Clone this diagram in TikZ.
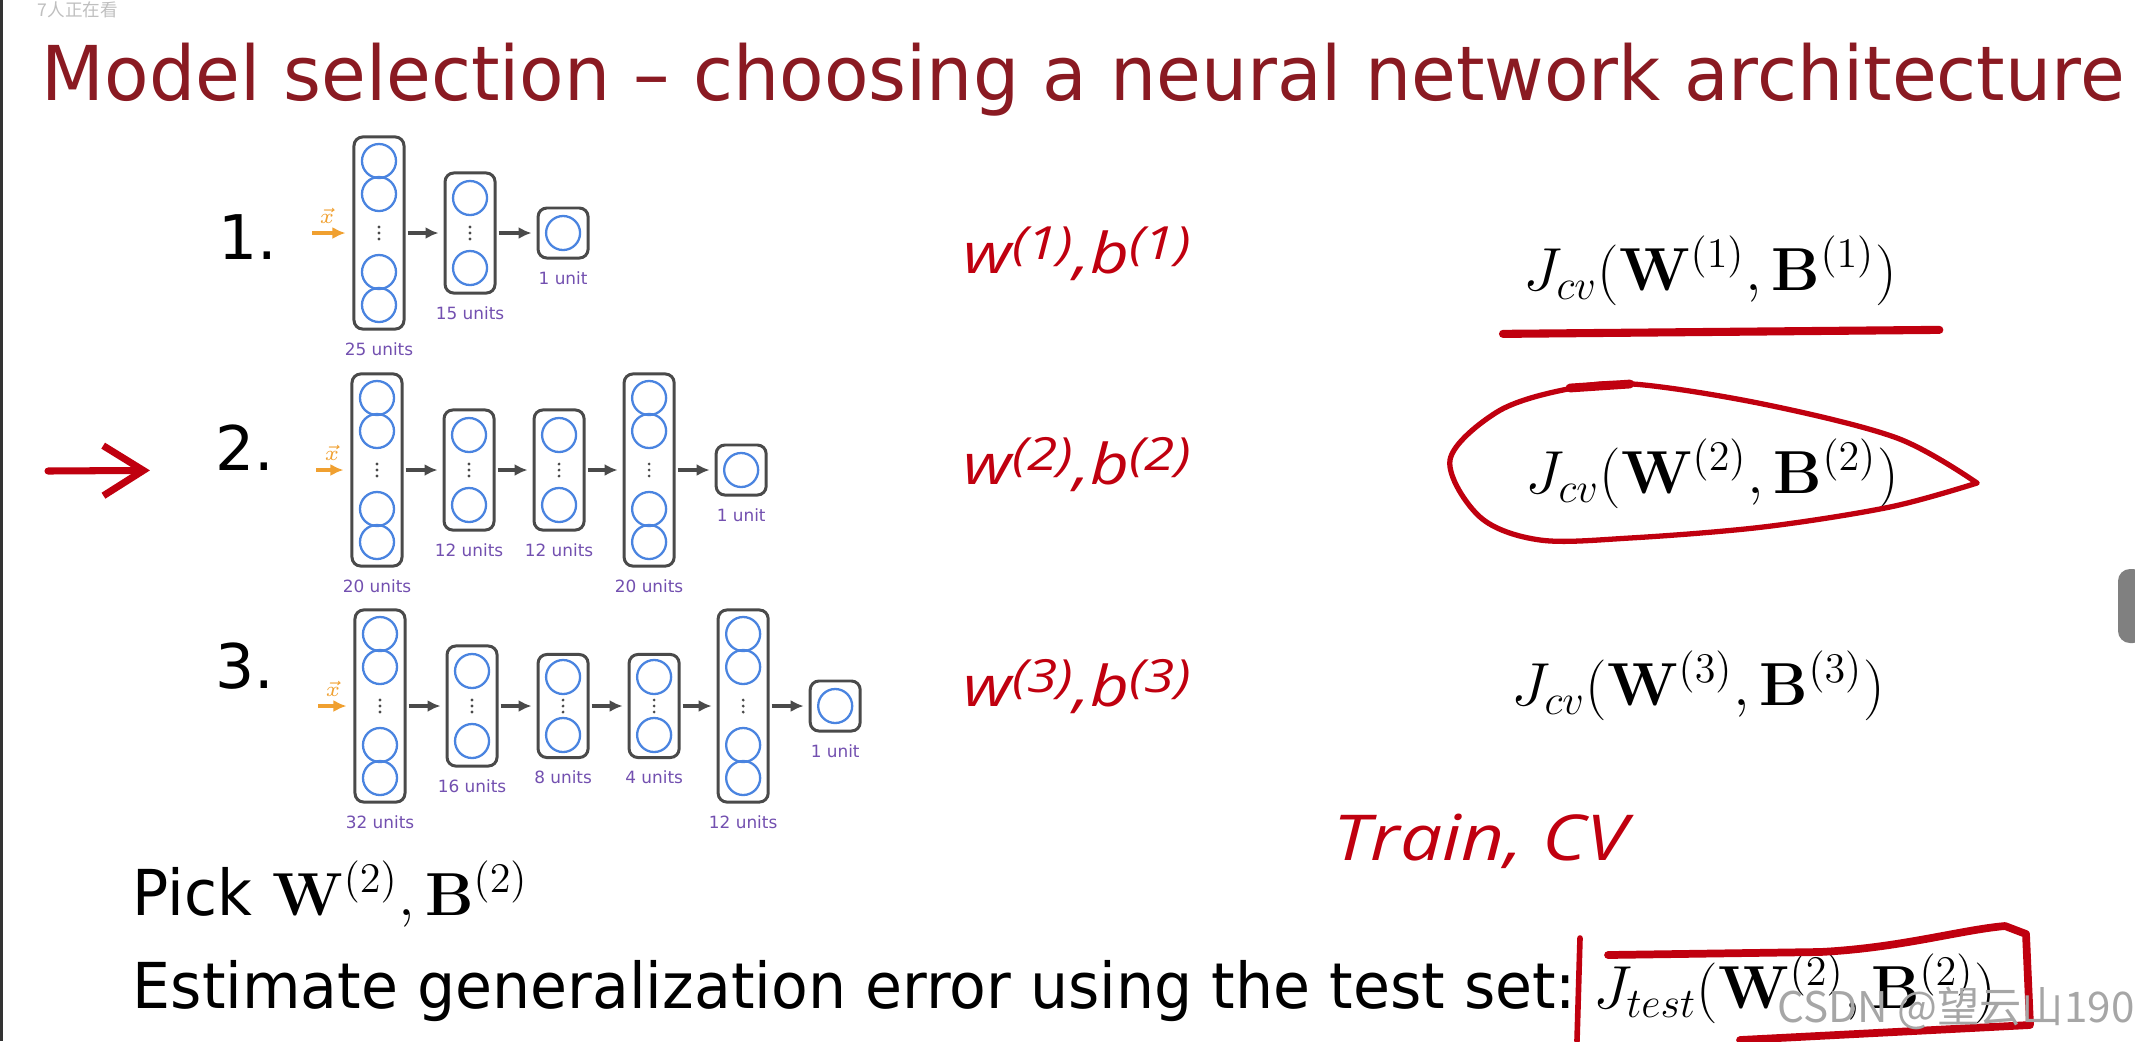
\documentclass[tikz,border=0pt]{standalone}
\usepackage[no-math]{fontspec}
\usepackage{graphicx}
\usepackage{tikz}
\usetikzlibrary{arrows.meta, positioning, calc}
\setmainfont{DejaVu Sans}
\newfontfamily\penfont{Open Sans}
\newfontfamily\cjkfont{Noto Sans CJK SC}
\definecolor{titlered}{HTML}{8A1A22}
\definecolor{penred}{HTML}{C0000F}
\definecolor{boxgray}{HTML}{4A4A4A}
\definecolor{unitblue}{HTML}{4A84E0}
\definecolor{unitpurple}{HTML}{7350B0}
\definecolor{inorange}{HTML}{F0A030}
\newcommand{\squeezed}[2][0.95]{\scalebox{#1}[1]{#2}}
\newcommand{\penwide}[1]{\scalebox{1.2}[1]{#1}}
\newcommand{\penup}[1]{\raisebox{0.45ex}{\fontsize{13}{13}\selectfont(#1)}}
\tikzset{
  layer/.style={draw=boxgray, fill=white, line width=0.85pt, rounded corners=2.5pt,
    minimum width=5mm, inner sep=0pt},
  tall/.style={layer, minimum height=19.2mm},
  mid/.style={layer, minimum height=12mm},
  short/.style={layer, minimum height=10.3mm},
  outbox/.style={layer, minimum height=5mm},
  unit/.style={circle, draw=unitblue, line width=0.65pt, minimum size=3.4mm, inner sep=0pt},
  ulabel/.style={font=\fontsize{4.8}{5}\selectfont, text=unitpurple, inner sep=0pt, below=1.1mm of #1},
  flow/.style={-{Latex[length=1.3mm, width=1.2mm]}, draw=boxgray, line width=0.9pt,
    shorten <=0.2mm, shorten >=0.5mm},
  inflow/.style={-{Latex[length=1.3mm, width=1.2mm]}, draw=inorange, line width=0.9pt, shorten >=0.7mm},
  xvec/.style={font=\fontsize{6}{6}\selectfont, text=inorange, inner sep=0pt},
  rownum/.style={font=\fontsize{17.5}{20}\selectfont, anchor=base west, inner sep=0pt},
  pen/.style={font=\penfont\itshape\fontsize{16}{18}\selectfont, text=penred, anchor=base west, inner sep=0pt},
  cost/.style={font=\fontsize{17}{20}\selectfont, anchor=base west, inner sep=0pt},
  body/.style={font=\fontsize{18}{22}\selectfont, anchor=base west, inner sep=0pt},
  redpen/.style={draw=penred, line width=1.5pt, line cap=round, line join=round}
}

\begin{document}
\begin{tikzpicture}[x=0.01cm, y=-0.01cm]
\fill[white] (0,0) rectangle (2135,1041);
\useasboundingbox (0,0) rectangle (2135,1041);
\draw[line width=0.3mm, draw=black!80] (1,0) -- (1,1041);
\node[font=\cjkfont\fontsize{5}{5}\selectfont, text=black!25, anchor=north west, inner sep=0pt] (viewers) at (37,1) {7人正在看};
\fill[black!50, rounded corners=1.2mm] (2118,569) rectangle (2145,643);

\node[font=\fontsize{21.5}{26}\selectfont, text=titlered, anchor=base west, inner sep=0pt] (title) at (41,100)
  {\squeezed[0.963]{Model selection – choosing a neural network architecture}};

\node[rownum] (num1) at (218,259) {1.};
\node[rownum] (num2) at (215,470) {2.};
\node[rownum] (num3) at (215,688) {3.};

% network 1
\node[tall] (a1) at (379,233) {};
\node[mid, right=3.8mm of a1] (a2) {};
\node[outbox, right=4mm of a2] (a3) {};
% network 2
\node[tall] (b1) at (377,470) {};
\node[mid, right=3.9mm of b1] (b2) {};
\node[mid, right=3.7mm of b2] (b3) {};
\node[tall, right=3.7mm of b3] (b4) {};
\node[outbox, right=3.9mm of b4] (b5) {};
% network 3
\node[tall] (c1) at (380,706) {};
\node[mid, right=3.9mm of c1] (c2) {};
\node[short, right=3.8mm of c2] (c3) {};
\node[short, right=3.8mm of c3] (c4) {};
\node[tall, right=3.6mm of c4] (c5) {};
\node[outbox, right=3.9mm of c5] (c6) {};

% units and dots
\foreach \n in {a1,b1,b4,c1,c5} {
  \foreach \d [count=\i] in {-72,-39,39,72} \node[unit] (\n-u\i) at ($(\n)+(0,\d)$) {};
}
\foreach \n in {a2,b2,b3,c2} {
  \foreach \d [count=\i] in {-35,35} \node[unit] (\n-u\i) at ($(\n)+(0,\d)$) {};
}
\foreach \n in {c3,c4} {
  \foreach \d [count=\i] in {-29,29} \node[unit] (\n-u\i) at ($(\n)+(0,\d)$) {};
}
\foreach \n in {a3,b5,c6} \node[unit] (\n-u1) at (\n) {};
\foreach \n in {a1,a2,b1,b2,b3,b4,c1,c2,c3,c4,c5} {
  \foreach \e in {-6,0,6} \fill[boxgray] ($(\n)+(0,\e)$) circle[radius=0.16mm];
}

\foreach \s/\t in {a1/a2,a2/a3,b1/b2,b2/b3,b3/b4,b4/b5,c1/c2,c2/c3,c3/c4,c4/c5,c5/c6}
  \draw[flow] (\s) -- (\t);

\coordinate (xa) at (312,233);
\coordinate (xb) at (316,470);
\coordinate (xc) at (318,706);
\draw[inflow] (xa) -- (a1);
\draw[inflow] (xb) -- (b1);
\draw[inflow] (xc) -- (c1);
\node[xvec] (xa-l) at (327,216) {$\vec{x}$};
\node[xvec] (xb-l) at (332,453) {$\vec{x}$};
\node[xvec] (xc-l) at (333,689) {$\vec{x}$};

\foreach \n/\t in {a1/25 units, a2/15 units, a3/1 unit,
  b1/20 units, b2/12 units, b3/12 units, b4/20 units, b5/1 unit,
  c1/32 units, c2/16 units, c3/8 units, c4/4 units, c5/12 units, c6/1 unit}
  \node[ulabel=\n] (\n-lab) {\t};

% parameters and costs
\node[pen] (wb1) at (963,273) {\penwide{w\penup{1},b\penup{1}}};
\node[pen] (wb2) at (963,484) {\penwide{w\penup{2},b\penup{2}}};
\node[pen] (wb3) at (963,706) {\penwide{w\penup{3},b\penup{3}}};
\node[cost] (jcv1) at (1523,290) {$J_{cv}(\mathbf{W}^{(1)},\mathbf{B}^{(1)})$};
\node[cost] (jcv2) at (1525,493) {$J_{cv}(\mathbf{W}^{(2)},\mathbf{B}^{(2)})$};
\node[cost] (jcv3) at (1511,705) {$J_{cv}(\mathbf{W}^{(3)},\mathbf{B}^{(3)})$};
\node[pen, font=\penfont\itshape\fontsize{18}{20}\selectfont] (split) at (1333,860) {\scalebox{1.18}[1]{Train, CV}};

\node[body] (pick) at (132,915) {\squeezed{Pick} $\mathbf{W}^{(2)},\mathbf{B}^{(2)}$};
\node[body] (est) at (132,1008) {\squeezed{Estimate generalization error using the test set:}};
\node[cost] (jtest) at (1593,1008) {$J_{test}(\mathbf{W}^{(2)},\mathbf{B}^{(2)})$};

% pen marks
\coordinate (ptr) at (48,471);
\draw[redpen, line width=2pt, -{Straight Barb[length=4mm, width=5mm]}, shorten >=6.5mm] (ptr) -- (num2.base west);
\draw[redpen, line width=2.3pt] ([xshift=-2mm, yshift=-2.8mm]jcv1.south west) -- ([xshift=4.2mm, yshift=-2.4mm]jcv1.south east);
\draw[redpen] plot[smooth, tension=0.55] coordinates {(1977,483) (1897,438) (1763,404) (1633,384) (1563,390)
  (1497,412) (1450,460) (1480,517) (1540,540) (1630,538) (1763,527) (1890,507) (1977,483)};
\draw[redpen, line width=2.5pt] (1570,388) -- (1630,384);
\draw[redpen, line width=1.6pt] (1580,938) -- (1577,1041);
\draw[redpen, line width=2.2pt] (1608,955) -- (1820,952) .. controls (1900,948) and (1960,930) .. (2005,926)
  -- (2026,934) -- (2030,1025) -- (1740,1040);

\node[font=\cjkfont\fontsize{12}{12}\selectfont, text=black!35, anchor=west, inner sep=0pt] (mark) at (1777,1008) {CSDN @望云山190};
\end{tikzpicture}
\end{document}
